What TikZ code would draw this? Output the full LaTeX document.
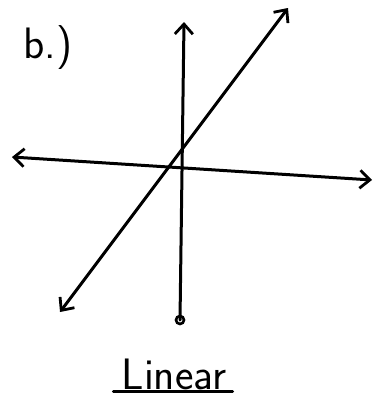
\documentclass[tikz,border=0pt]{standalone}
\usepackage{tikz}
\usetikzlibrary{arrows.meta, positioning}
\tikzset{
    axisline/.style={line width=3pt, line cap=round, -{Straight Barb[length=10pt, width=18pt, line width=2.8pt]}},
    bothline/.style={line width=3pt, line cap=round, {Straight Barb[length=10pt, width=18pt, line width=2.8pt]}-{Straight Barb[length=10pt, width=18pt, line width=2.8pt]}},
    handtext/.style={font=\sffamily\fontsize{44}{50}\selectfont, inner sep=2pt},
}

\begin{document}
\begin{tikzpicture}[x=1pt, y=-1pt]
                \useasboundingbox (0,0) rectangle (376,407);
                % axes ends
                \coordinate (xl) at (12,157);
                \coordinate (xr) at (372,180);
                \coordinate (yt) at (184,22);
                \coordinate (yb) at (180,320);
                % the line
                \coordinate (ll) at (60,312);
                \coordinate (lr) at (288,8);
                \draw[bothline] (xl) -- (xr);
                \draw[axisline] (yb) -- (yt);
                \draw[line width=2.6pt] (yb) circle (4pt);
                \draw[bothline] (ll) -- (lr);
                % labels
                \node[handtext] (part) at (48,48) {b.)};
                \node[handtext] (caption) at (174,374) {Linear};
                \draw[line width=3pt, line cap=round] ([xshift=-6pt]caption.south west) -- ([xshift=4pt]caption.south east);
            \end{tikzpicture}
\end{document}
